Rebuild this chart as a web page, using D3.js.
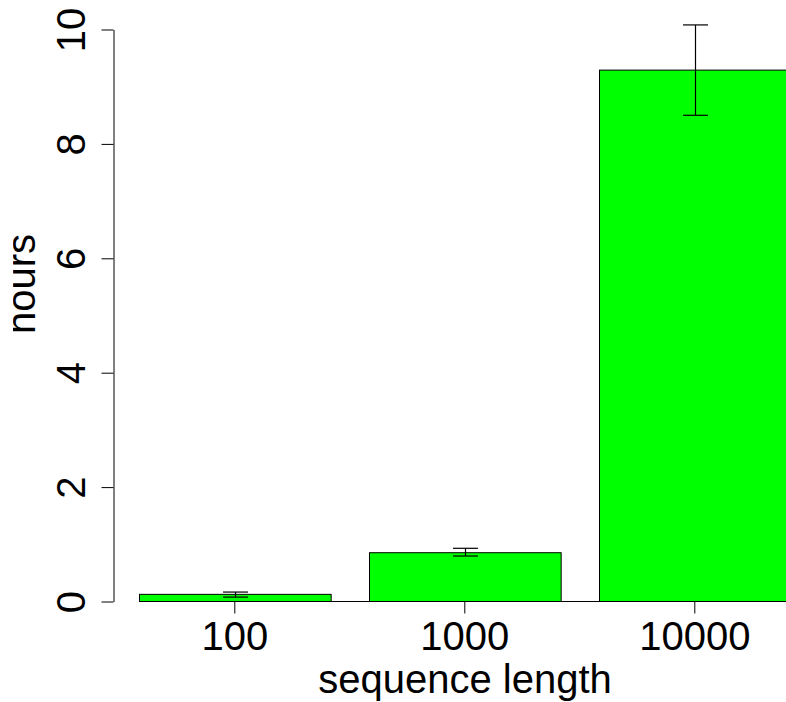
<!DOCTYPE html>
<html>
<head>
<meta charset="utf-8">
<script src="https://cdn.jsdelivr.net/npm/d3@7"></script>
<style>
  html, body { margin: 0; padding: 0; background: #fff; }
  svg { display: block; }
  text { font-family: "Liberation Sans", Arial, Helvetica, sans-serif; }
</style>
</head>
<body>
<svg id="chart" width="786" height="702"></svg>
<script>
const categories = ["100", "1000", "10000"];
const hours = [0.125, 0.853, 9.29];
const errLow = [0.077, 0.795, 8.50];
const errHigh = [0.165, 0.93, 10.08];
const yTicks = [0, 2, 4, 6, 8, 10];

const W = 786, H = 702;
const svg = d3.select("#chart");

const x = d3.scaleBand()
  .domain(categories)
  .range([119.8, 809.8])
  .paddingInner(1 / 6)
  .paddingOuter(1 / 12);

const y = d3.scaleLinear().domain([0, 10]).range([601.5, 29.5]);

const data = categories.map((c, i) => ({ c, v: hours[i], lo: errLow[i], hi: errHigh[i] }));

// baseline line from first bar to right edge
svg.append("line")
  .attr("x1", x(categories[0])).attr("x2", W)
  .attr("y1", y(0)).attr("y2", y(0))
  .attr("stroke", "#000").attr("stroke-width", 1);

// bars
svg.append("g").selectAll("rect").data(data).join("rect")
  .attr("x", d => Math.round(x(d.c)) + 0.5)
  .attr("width", x.bandwidth())
  .attr("y", d => y(d.v))
  .attr("height", d => y(0) - y(d.v))
  .attr("fill", "#00ff00")
  .attr("stroke", "#000")
  .attr("stroke-width", 1);

// error bars
const eb = svg.append("g").attr("stroke", "#000").attr("stroke-width", 1.2);
data.forEach(d => {
  const cx = Math.round(x(d.c) + x.bandwidth() / 2) + 0.5;
  eb.append("line").attr("x1", cx).attr("x2", cx).attr("y1", y(d.lo)).attr("y2", y(d.hi));
  eb.append("line").attr("x1", cx - 12.5).attr("x2", cx + 12.5).attr("y1", y(d.lo)).attr("y2", y(d.lo));
  eb.append("line").attr("x1", cx - 12.5).attr("x2", cx + 12.5).attr("y1", y(d.hi)).attr("y2", y(d.hi));
});

// y axis
const yAxis = d3.axisLeft(y).tickValues(yTicks).tickFormat(d3.format("d")).tickSize(12).tickSizeOuter(0);
const gy = svg.append("g").attr("transform", "translate(113.5,0)").call(yAxis);
gy.select(".domain").attr("stroke", "#000");
gy.selectAll(".tick line").attr("stroke", "#000");
gy.selectAll(".tick text")
  .attr("font-size", 40)
  .attr("fill", "#000")
  .attr("x", null).attr("dy", null)
  .attr("text-anchor", "middle")
  .attr("transform", "translate(-28.5,0) rotate(-90)");

// x axis (ticks only)
const xAxis = d3.axisBottom(x).tickSize(12).tickSizeOuter(0).tickPadding(6);
const gx = svg.append("g").attr("transform", `translate(0,${y(0)})`).call(xAxis);
gx.select(".domain").remove();
gx.selectAll(".tick line").attr("stroke", "#000");
gx.selectAll(".tick text")
  .attr("font-size", 40)
  .attr("fill", "#000")
  .attr("dy", null)
  .attr("y", 48);

// axis titles
svg.append("text")
  .attr("x", 465).attr("y", 693)
  .attr("text-anchor", "middle")
  .attr("font-size", 40)
  .attr("fill", "#000")
  .text("sequence length");

svg.append("clipPath").attr("id", "leftclip")
  .append("rect").attr("x", 13).attr("y", 0).attr("width", W).attr("height", H);

svg.append("g")
  .attr("clip-path", "url(#leftclip)")
  .append("text")
  .attr("transform", "translate(35,284) rotate(-90)")
  .attr("text-anchor", "middle")
  .attr("font-size", 40)
  .attr("fill", "#000")
  .text("hours");
</script>
</body>
</html>
